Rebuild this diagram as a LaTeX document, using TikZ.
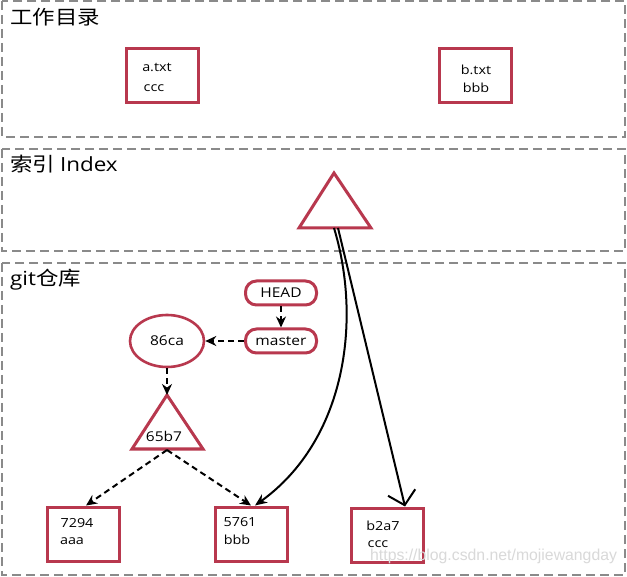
\documentclass[tikz,border=0pt]{standalone}
\usepackage{fontspec}
\setmainfont{Open Sans}[FakeStretch=1.15]
\newfontfamily\cjkf{Noto Sans CJK SC}[FakeStretch=1.15]
\newfontfamily\wmfont{Liberation Sans}
\usetikzlibrary{arrows.meta,shapes.geometric}
\definecolor{gitred}{HTML}{B8384E}
\definecolor{panelgray}{HTML}{8A8A8A}
\tikzset{
  panel/.style={draw=panelgray,line width=1.4pt,dash pattern=on 9pt off 5pt},
  title/.style={anchor=west,font=\fontsize{19.5}{21}\selectfont,inner sep=0pt},
  filebox/.style={draw=gitred,line width=3pt,minimum width=72pt,minimum height=54pt,inner sep=0pt},
  small/.style={font=\fontsize{12.5}{14}\selectfont,inner sep=0pt},
  refbox/.style={draw=gitred,line width=3pt,rounded corners=11pt,minimum width=71pt,minimum height=24pt,inner sep=0pt,font=\fontsize{13.5}{15}\selectfont},
  commit/.style={draw=gitred,line width=2.6pt,ellipse,minimum width=74pt,minimum height=52pt,inner sep=0pt,font=\fontsize{13.5}{15}\selectfont},
  trishape/.style={draw=gitred,line width=3pt,line join=miter},
  dasharrow/.style={line width=2pt,dash pattern=on 6pt off 4pt,-{Stealth[length=11pt,width=10pt]}},
  solidarrow/.style={line width=2pt,-{Stealth[length=12pt,width=10pt]}},
  openarrow/.style={line width=2pt,-{Straight Barb[length=13pt,width=28pt,line width=2pt]}}
}
\begin{document}
\begin{tikzpicture}[x=1pt,y=-1pt]
\useasboundingbox (0,0) rectangle (627,577);
\fill[white] (0,0) rectangle (627,577);
% panels
\draw[panel] (2,1) rectangle (625,137);
\draw[panel] (2,149) rectangle (625,251);
\draw[panel] (2,263) rectangle (625,575);
\node[title] (t1) at (10,17) {\cjkf 工作目录};
\node[title] (t2) at (10,164) {\cjkf 索引 \rmfamily Index};
\node[title] (t3) at (10,280) {git\cjkf 仓库};
% working dir
\node[filebox] (a) at (162,76) {};
\node[small] (atxt) at (157,67) {a.txt};
\node[small] (accc) at (154,88) {ccc};
\node[filebox] (b) at (475,76) {};
\node[small] (btxt) at (476,70) {b.txt};
\node[small] (bbbb) at (476,88) {bbb};
% index tree
\draw[trishape] (334,173) -- (371,228) -- (299,228) -- cycle;
\coordinate (idx) at (334,228);
\coordinate (idx2) at (338,228);
% repository
\node[refbox] (head) at (281,293) {HEAD};
\node[refbox] (master) at (281,341) {master};
\node[commit] (c86) at (167,341) {86ca};
\draw[trishape] (167,395) -- (203,449) -- (132,449) -- cycle;
\coordinate (tapex) at (167,395);
\coordinate (tbase) at (167,450);
\node[font=\fontsize{13.5}{15}\selectfont,inner sep=0pt] (t65) at (164,436) {65b7};
\node[filebox] (f7294) at (83,534) {};
\node[small] (n7294) at (77,523) {7294};
\node[small] (naaa) at (72,541) {aaa};
\node[filebox] (f5761) at (251,534) {};
\node[small] (n5761) at (240,522) {5761};
\node[small] (nbbb) at (237,540) {bbb};
\node[filebox] (fb2a7) at (387,535) {};
\node[small] (nb2a7) at (383,526) {b2a7};
\node[small] (nccc) at (378,544) {ccc};
% connectors
\draw[dasharrow] (head.south) -- (master.north);
\draw[dasharrow] (master.west) -- (c86.east);
\draw[dasharrow] (c86.south) -- (tapex);
\draw[dasharrow] (tbase) -- ([xshift=3pt]f7294.north);
\draw[dasharrow] (tbase) -- (f5761.north);
\draw[solidarrow] (idx) .. controls (362,320) and (346,440) .. ([xshift=4pt]f5761.north);
\draw[openarrow] (idx2) -- ([xshift=18pt]fb2a7.north);
% watermark
\node[anchor=west,text=black!15,font=\wmfont\fontsize{15.8}{18}\selectfont,inner sep=0pt] (wm) at (370,556) {https://blog.csdn.net/mojiewangday};
\end{tikzpicture}
\end{document}
